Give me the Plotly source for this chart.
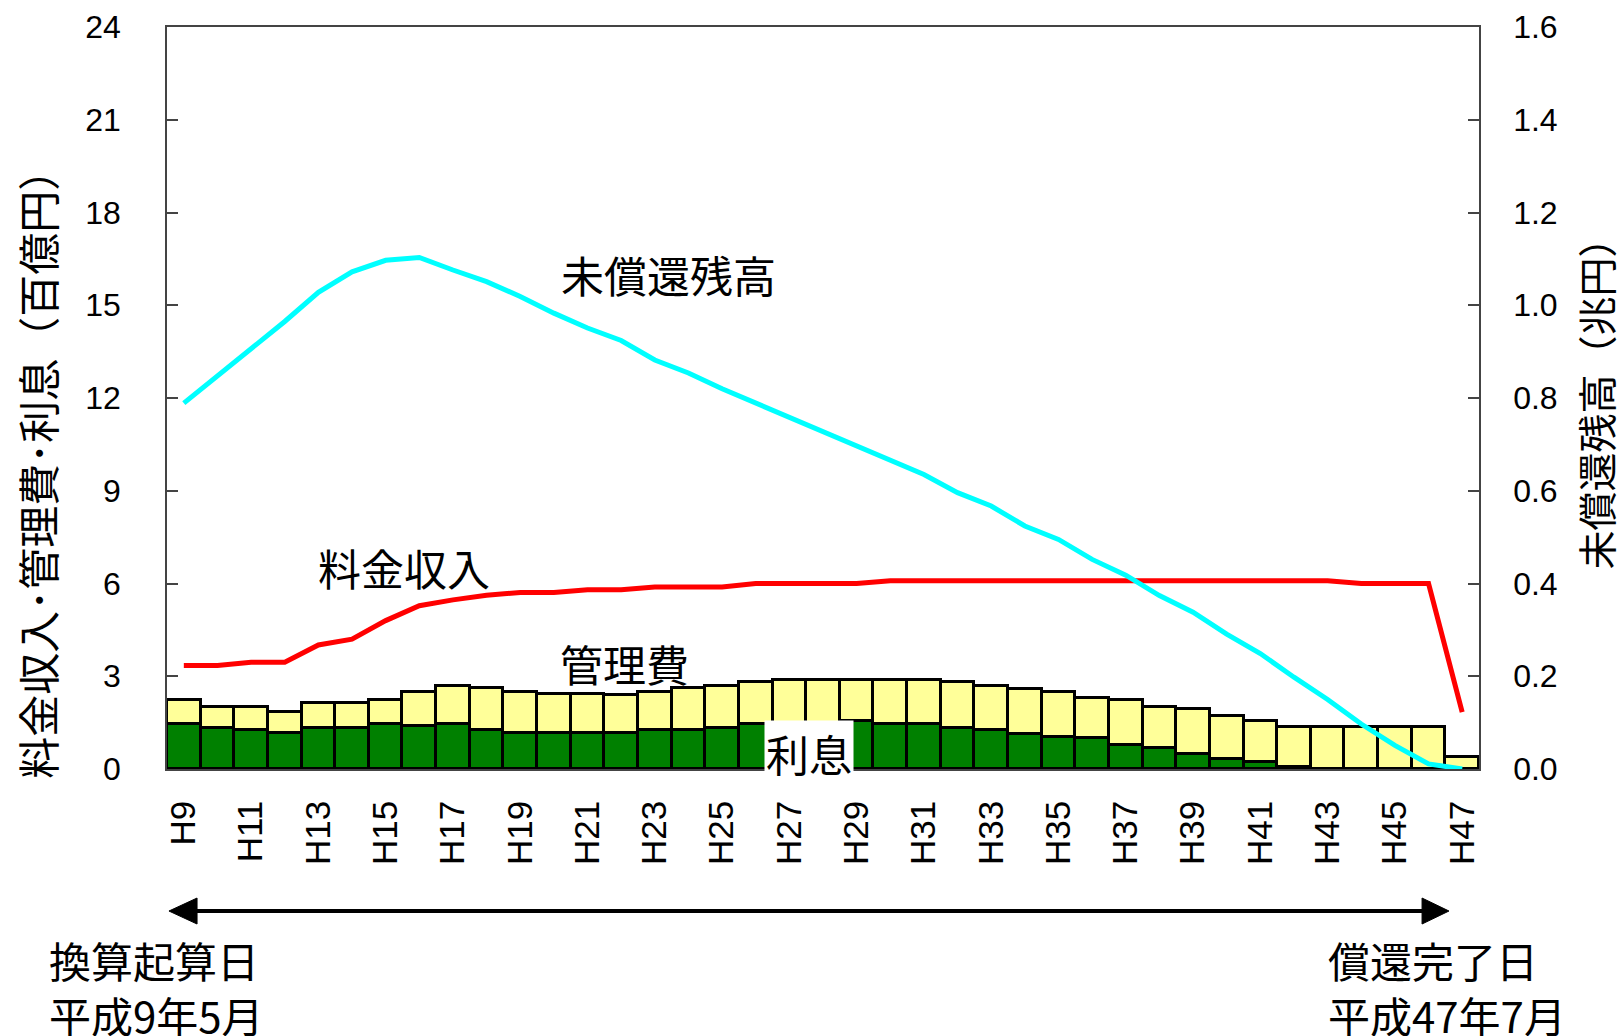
import plotly.graph_objects as go

years = ["H9", "H10", "H11", "H12", "H13", "H14", "H15", "H16", "H17", "H18",
         "H19", "H20", "H21", "H22", "H23", "H24", "H25", "H26", "H27", "H28",
         "H29", "H30", "H31", "H32", "H33", "H34", "H35", "H36", "H37", "H38",
         "H39", "H40", "H41", "H42", "H43", "H44", "H45", "H46", "H47"]
tick_years = ["H9", "H11", "H13", "H15", "H17", "H19", "H21", "H23", "H25", "H27",
              "H29", "H31", "H33", "H35", "H37", "H39", "H41", "H43", "H45", "H47"]

# 利息 (百億円)
interest = [1.44, 1.33, 1.25, 1.16, 1.33, 1.33, 1.44, 1.38, 1.44, 1.27,
            1.16, 1.16, 1.16, 1.16, 1.25, 1.25, 1.33, 1.44, 1.47, 1.50,
            1.55, 1.44, 1.44, 1.33, 1.25, 1.14, 1.05, 1.00, 0.78, 0.68,
            0.49, 0.33, 0.23, 0.06, 0.0, 0.0, 0.0, 0.0, 0.0]
# 管理費 (百億円)
mgmt = [0.78, 0.67, 0.75, 0.68, 0.80, 0.80, 0.78, 1.12, 1.26, 1.34,
        1.34, 1.25, 1.25, 1.24, 1.25, 1.36, 1.37, 1.36, 1.42, 1.39,
        1.34, 1.45, 1.45, 1.47, 1.45, 1.45, 1.45, 1.30, 1.44, 1.34,
        1.44, 1.40, 1.32, 1.29, 1.35, 1.35, 1.35, 1.35, 0.39]
# 料金収入 (百億円)
revenue = [3.35, 3.35, 3.45, 3.45, 4.01, 4.20, 4.80, 5.28, 5.47, 5.62,
           5.71, 5.71, 5.80, 5.80, 5.89, 5.89, 5.89, 6.00, 6.00, 6.00,
           6.00, 6.09, 6.09, 6.09, 6.09, 6.09, 6.09, 6.09, 6.09, 6.09,
           6.09, 6.09, 6.09, 6.09, 6.09, 6.00, 6.00, 6.00, 1.84]
# 未償還残高 (兆円)
debt = [0.789, 0.847, 0.904, 0.965, 1.028, 1.072, 1.097, 1.103, 1.076, 1.051,
        1.019, 0.983, 0.951, 0.924, 0.882, 0.854, 0.820, 0.789, 0.757, 0.728,
        0.697, 0.664, 0.635, 0.596, 0.567, 0.524, 0.495, 0.452, 0.418, 0.374,
        0.338, 0.291, 0.249, 0.198, 0.150, 0.097, 0.051, 0.011, 0.0]

CJK = "Noto Sans CJK JP"
NUM = "Liberation Sans, Arial, sans-serif"

fig = go.Figure()
fig.add_trace(go.Bar(x=years, y=interest, name="利息",
                     marker=dict(color="#008000", line=dict(color="black", width=2.8))))
fig.add_trace(go.Bar(x=years, y=mgmt, name="管理費",
                     marker=dict(color="#FFFF99", line=dict(color="black", width=2.8))))
fig.add_trace(go.Scatter(x=years, y=revenue, name="料金収入", mode="lines",
                         line=dict(color="#FF0000", width=5)))
fig.add_trace(go.Scatter(x=years, y=debt, name="未償還残高", mode="lines", yaxis="y2",
                         line=dict(color="#00FFFF", width=5)))

axis_line = "#444444"
fig.update_layout(
    width=1623, height=1036,
    margin=dict(l=167, r=144, t=27, b=267, pad=0),
    paper_bgcolor="white", plot_bgcolor="white",
    barmode="stack", bargap=0,
    showlegend=False,
    font=dict(family=NUM, color="black"),
    xaxis=dict(
        type="category", range=[-0.5, 38.5], automargin=False,
        tickmode="array", tickvals=tick_years, ticktext=tick_years,
        tickangle=-90, tickfont=dict(size=35, family=NUM),
        ticks="", showline=True, linecolor=axis_line, linewidth=1.5, mirror=True,
        showgrid=False, ticklabelstandoff=16,
    ),
    yaxis=dict(
        range=[0, 24], dtick=3, tick0=0, automargin=False,
        ticks="inside", ticklen=11, tickcolor=axis_line, tickwidth=1.5,
        tickfont=dict(size=32, family=NUM),
        showline=True, linecolor=axis_line, linewidth=1.5, mirror=True,
        showgrid=False, zeroline=False, ticklabelstandoff=38,
    ),
    yaxis2=dict(
        range=[0, 1.6], dtick=0.2, tick0=0, tickformat=".1f", automargin=False,
        overlaying="y", side="right",
        ticks="inside", ticklen=11, tickcolor=axis_line, tickwidth=1.5,
        tickfont=dict(size=32, family=NUM),
        showline=True, linecolor=axis_line, linewidth=1.5,
        showgrid=False, zeroline=False, ticklabelstandoff=26,
    ),
)

ann_font = dict(family=CJK, size=43, color="black")
annotations = [
    dict(text="未償還残高", x=0.382, y=0.6667),
    dict(text="料金収入", x=0.1804, y=0.272),
    dict(text="管理費", x=0.3485, y=0.1435),
    dict(text="利息", x=0.4893, y=0.0222, bgcolor="white", borderpad=1),
]
for a in annotations:
    fig.add_annotation(xref="paper", yref="paper", showarrow=False,
                       xanchor="center", yanchor="middle", font=ann_font, **a)

# axis titles
fig.add_annotation(text="料金収入･管理費･利息（百億円）", xref="paper", yref="paper",
                   x=-0.0997, y=0.4115, textangle=-90, showarrow=False,
                   xanchor="center", yanchor="middle",
                   font=dict(family=CJK, size=42, color="black"))
fig.add_annotation(text="未償還残高（兆円）", xref="paper", yref="paper",
                   x=1.0884, y=0.506, textangle=-90, showarrow=False,
                   xanchor="center", yanchor="middle",
                   font=dict(family=CJK, size=39, color="black"))

# bottom notes
for txt, x in [("換算起算日<br>平成9年5月", -0.0911), ("償還完了日<br>平成47年7月", 0.8834)]:
    fig.add_annotation(text=txt, xref="paper", yref="paper", x=x, y=-0.2935,
                       xanchor="left", yanchor="middle", align="left", showarrow=False,
                       font=dict(family=CJK, size=42, color="black"))

# double-headed period arrow
ya = -0.1914
fig.add_shape(type="line", xref="paper", yref="paper", x0=0.018, x1=0.962, y0=ya, y1=ya,
              line=dict(color="black", width=4))
fig.add_shape(type="path", xref="paper", yref="paper",
              path=f"M 0.0015 {ya} L 0.0229 {ya + 0.0175} L 0.0229 {ya - 0.0175} Z",
              fillcolor="black", line=dict(color="black", width=1))
fig.add_shape(type="path", xref="paper", yref="paper",
              path=f"M 0.9771 {ya} L 0.9566 {ya + 0.0175} L 0.9566 {ya - 0.0175} Z",
              fillcolor="black", line=dict(color="black", width=1))

fig.write_html("out.html", config={"displayModeBar": False},
               post_script="document.body.style.margin='0';")
